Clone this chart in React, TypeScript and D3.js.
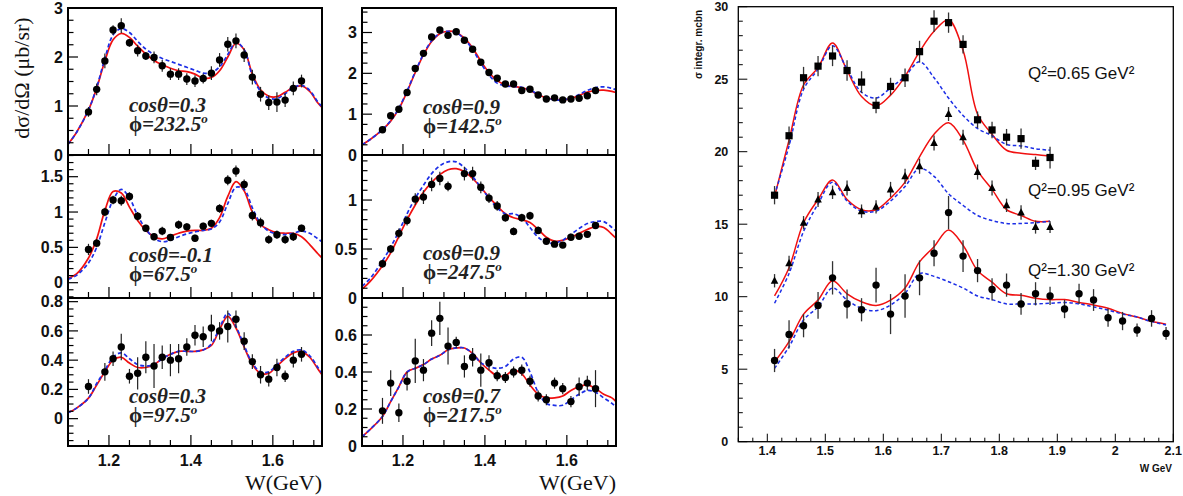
import React from "react";
import * as d3 from "d3";

// ---------------- Left block data (W in GeV) ----------------
const W_POINTS = [1.15, 1.17, 1.19, 1.21, 1.23, 1.25, 1.27, 1.29, 1.31, 1.33, 1.35, 1.37, 1.39, 1.41, 1.43, 1.45, 1.47, 1.49, 1.51, 1.53, 1.55, 1.57, 1.59, 1.61, 1.63, 1.65, 1.67];
const CURVE_W = [1.10, 1.12, 1.15, 1.17, 1.19, 1.21, 1.23, 1.25, 1.27, 1.29, 1.31, 1.33, 1.35, 1.37, 1.39, 1.41, 1.43, 1.45, 1.47, 1.49, 1.51, 1.53, 1.55, 1.57, 1.59, 1.61, 1.63, 1.65, 1.67, 1.69, 1.71, 1.72];

const L1_Y = [0.88, 1.34, 1.92, 2.55, 2.64, 2.29, 2.13, 2.02, 1.99, 1.82, 1.65, 1.65, 1.55, 1.51, 1.56, 1.67, 1.94, 2.26, 2.33, 2.04, 1.59, 1.24, 1.07, 1.08, 1.12, 1.36, 1.51];
const L1_E = [0.1, 0.12, 0.15, 0.1, 0.15, 0.08, 0.12, 0.08, 0.12, 0.12, 0.12, 0.12, 0.12, 0.12, 0.1, 0.14, 0.14, 0.15, 0.15, 0.14, 0.15, 0.15, 0.15, 0.2, 0.14, 0.14, 0.13];
const L1_RED = [0.22, 0.45, 0.92, 1.36, 1.92, 2.35, 2.48, 2.40, 2.22, 2.06, 1.93, 1.84, 1.77, 1.72, 1.70, 1.65, 1.57, 1.58, 1.72, 2.0, 2.28, 2.15, 1.65, 1.33, 1.20, 1.19, 1.28, 1.38, 1.41, 1.30, 1.06, 0.97];
const L1_BLUE = [0.22, 0.45, 0.92, 1.38, 1.97, 2.45, 2.58, 2.50, 2.32, 2.16, 2.05, 1.97, 1.91, 1.85, 1.79, 1.73, 1.67, 1.68, 1.80, 2.05, 2.30, 2.15, 1.62, 1.30, 1.16, 1.15, 1.25, 1.37, 1.42, 1.32, 1.08, 0.99];

const M1_Y = [0.62, 0.96, 1.12, 1.53, 2.12, 2.49, 2.89, 3.06, 2.93, 3.02, 2.81, 2.59, 2.27, 2.02, 1.88, 1.74, 1.74, 1.58, 1.61, 1.47, 1.37, 1.40, 1.35, 1.37, 1.39, 1.45, 1.58];
const M1_E = [0.04, 0.05, 0.05, 0.06, 0.06, 0.07, 0.07, 0.07, 0.07, 0.07, 0.07, 0.06, 0.06, 0.05, 0.05, 0.05, 0.05, 0.05, 0.05, 0.05, 0.04, 0.04, 0.04, 0.04, 0.04, 0.05, 0.05];
const M1_RED = [0.25, 0.38, 0.62, 0.83, 1.13, 1.55, 2.02, 2.45, 2.78, 2.97, 3.03, 3.0, 2.86, 2.62, 2.3, 2.02, 1.82, 1.72, 1.68, 1.65, 1.58, 1.48, 1.40, 1.36, 1.35, 1.38, 1.46, 1.54, 1.58, 1.59, 1.56, 1.53];
const M1_BLUE = [0.25, 0.38, 0.62, 0.84, 1.15, 1.57, 2.04, 2.47, 2.8, 2.98, 3.03, 2.99, 2.84, 2.58, 2.25, 1.96, 1.76, 1.69, 1.68, 1.66, 1.59, 1.49, 1.40, 1.35, 1.35, 1.39, 1.48, 1.58, 1.65, 1.67, 1.63, 1.60];

const L2_Y = [0.47, 0.56, 1.00, 1.17, 1.16, 1.22, 0.94, 0.77, 0.65, 0.73, 0.64, 0.82, 0.79, 0.63, 0.80, 0.84, 1.05, 1.45, 1.58, 1.39, 0.95, 0.85, 0.61, 0.68, 0.61, 0.65, 0.77];
const L2_E = [0.08, 0.06, 0.06, 0.06, 0.07, 0.06, 0.06, 0.05, 0.05, 0.06, 0.05, 0.06, 0.05, 0.05, 0.05, 0.05, 0.06, 0.07, 0.08, 0.07, 0.07, 0.07, 0.06, 0.06, 0.06, 0.06, 0.05];
const L2_RED = [0.06, 0.12, 0.35, 0.62, 1.02, 1.29, 1.27, 1.07, 0.88, 0.74, 0.65, 0.62, 0.66, 0.70, 0.73, 0.74, 0.74, 0.77, 0.92, 1.22, 1.43, 1.30, 1.0, 0.82, 0.75, 0.71, 0.70, 0.70, 0.65, 0.54, 0.41, 0.35];
const L2_BLUE = [0.05, 0.10, 0.28, 0.50, 0.85, 1.17, 1.32, 1.2, 0.95, 0.76, 0.63, 0.58, 0.60, 0.65, 0.69, 0.72, 0.74, 0.76, 0.86, 1.12, 1.35, 1.32, 1.06, 0.84, 0.73, 0.69, 0.68, 0.70, 0.73, 0.70, 0.62, 0.58];

const M2_Y = [0.35, 0.50, 0.66, 0.79, 1.01, 1.03, 1.16, 1.22, 1.14, null, 1.27, 1.27, 1.13, 1.02, 0.94, 0.82, 0.68, 0.82, 0.84, 0.69, 0.58, 0.55, 0.54, 0.62, 0.63, 0.65, 0.74];
const M2_E = [0.04, 0.04, 0.05, 0.05, 0.06, 0.07, 0.07, 0.07, 0.05, null, 0.07, 0.07, 0.06, 0.05, 0.05, 0.04, 0.04, 0.04, 0.04, 0.04, 0.03, 0.03, 0.03, 0.03, 0.03, 0.03, 0.03];
const M2_RED = [0.09, 0.17, 0.33, 0.46, 0.63, 0.80, 0.95, 1.08, 1.18, 1.26, 1.31, 1.32, 1.29, 1.22, 1.13, 1.03, 0.94, 0.86, 0.82, 0.80, 0.77, 0.70, 0.62, 0.58, 0.59, 0.62, 0.66, 0.70, 0.73, 0.72, 0.65, 0.61];
const M2_BLUE = [0.12, 0.2, 0.38, 0.52, 0.68, 0.86, 1.02, 1.15, 1.27, 1.35, 1.39, 1.39, 1.33, 1.24, 1.13, 1.02, 0.92, 0.86, 0.86, 0.82, 0.72, 0.62, 0.57, 0.56, 0.59, 0.65, 0.71, 0.76, 0.78, 0.78, 0.72, 0.68];

const L3_Y = [0.22, null, 0.32, 0.41, 0.49, 0.29, 0.31, 0.42, 0.36, 0.42, 0.40, 0.41, 0.49, 0.57, 0.56, 0.62, 0.60, 0.63, 0.68, 0.53, 0.39, 0.30, 0.27, 0.35, 0.29, 0.40, 0.44];
const L3_E = [0.05, null, 0.06, 0.05, 0.09, 0.05, 0.11, 0.11, 0.15, 0.08, 0.11, 0.10, 0.06, 0.07, 0.07, 0.09, 0.06, 0.11, 0.06, 0.06, 0.05, 0.06, 0.05, 0.06, 0.04, 0.05, 0.05];
const L3_RED = [0.04, 0.07, 0.14, 0.23, 0.32, 0.40, 0.42, 0.38, 0.35, 0.35, 0.37, 0.41, 0.44, 0.46, 0.46, 0.46, 0.47, 0.50, 0.61, 0.70, 0.62, 0.49, 0.37, 0.31, 0.31, 0.36, 0.41, 0.45, 0.46, 0.42, 0.34, 0.30];
const L3_BLUE = [0.04, 0.07, 0.14, 0.24, 0.33, 0.42, 0.45, 0.41, 0.37, 0.36, 0.37, 0.41, 0.44, 0.46, 0.46, 0.46, 0.47, 0.51, 0.62, 0.72, 0.63, 0.50, 0.38, 0.32, 0.32, 0.37, 0.42, 0.46, 0.47, 0.43, 0.35, 0.31];

const M3_Y = [0.19, 0.34, 0.18, 0.35, 0.46, 0.41, 0.61, 0.69, 0.54, 0.56, 0.43, 0.48, 0.41, 0.45, 0.38, 0.37, 0.40, 0.41, 0.35, 0.27, 0.25, 0.34, 0.31, 0.24, 0.32, 0.34, 0.31];
const M3_E = [0.07, 0.07, 0.05, 0.05, 0.12, 0.06, 0.07, 0.09, 0.1, 0.03, 0.06, 0.05, 0.09, 0.04, 0.03, 0.03, 0.03, 0.03, 0.03, 0.03, 0.03, 0.03, 0.03, 0.03, 0.05, 0.04, 0.1];
const M3_RED = [0.05, 0.09, 0.16, 0.24, 0.32, 0.40, 0.42, 0.44, 0.47, 0.49, 0.52, 0.53, 0.53, 0.50, 0.45, 0.41, 0.38, 0.38, 0.41, 0.39, 0.33, 0.28, 0.26, 0.26, 0.27, 0.30, 0.32, 0.33, 0.31, 0.28, 0.26, 0.24];
const M3_BLUE = [0.05, 0.09, 0.16, 0.24, 0.32, 0.40, 0.42, 0.44, 0.47, 0.49, 0.52, 0.53, 0.53, 0.50, 0.45, 0.43, 0.42, 0.43, 0.47, 0.48, 0.40, 0.29, 0.23, 0.22, 0.22, 0.25, 0.28, 0.30, 0.29, 0.26, 0.23, 0.21];

const LEFT_X_LABELS = [1.2, 1.4, 1.6];

// ---------------- Right panel data ----------------
const W_RIGHT = [1.4125, 1.4375, 1.4625, 1.4875, 1.5125, 1.5375, 1.5625, 1.5875, 1.6125, 1.6375, 1.6625, 1.6875, 1.7125, 1.7375, 1.7625, 1.7875, 1.8125, 1.8375, 1.8625, 1.8875, 1.9125, 1.9375, 1.9625, 1.9875, 2.0125, 2.0375, 2.0625, 2.0875];

const SQ_Y = [17.0, 21.1, 25.1, 25.9, 26.6, 25.6, 24.8, 23.2, 24.5, 25.1, 26.9, 29.0, 28.9, 27.4, 22.2, 21.5, 21.0, 20.9, 19.2, 19.6];
const SQ_E = [0.63, 0.63, 0.75, 0.7, 0.7, 0.7, 0.75, 0.55, 0.6, 0.63, 0.75, 0.75, 0.7, 0.63, 0.57, 0.57, 0.57, 0.7, 0.46, 0.75];
const SQ_RED = [16.9, 20.8, 24.6, 25.8, 27.5, 25.6, 23.8, 23.15, 23.9, 25.2, 26.9, 28.3, 29.1, 27.0, 22.6, 21.2, 20.1, 19.9, 19.8, 19.7];
const SQ_BLUE = [17.0, 20.4, 24.3, 25.7, 27.3, 25.7, 24.1, 23.7, 24.4, 25.2, 26.2, 25.1, 23.7, 22.5, 21.6, 21.1, 20.5, 20.4, 20.2, 20.1];

const TR_Y = [11.1, 12.3, 15.1, 16.7, 17.2, 17.5, 15.9, 16.2, 17.4, 18.3, 19.0, 20.6, 22.6, 21.0, 18.6, 17.5, 16.3, 15.8, 14.8, 14.8];
const TR_E = [0.46, 0.52, 0.46, 0.52, 0.46, 0.52, 0.46, 0.46, 0.52, 0.52, 0.52, 0.52, 0.48, 0.52, 0.52, 0.52, 0.46, 0.5, 0.45, 0.4];
const TR_RED = [10.05, 12.0, 15.1, 16.7, 18.05, 16.7, 16.0, 16.0, 16.8, 17.9, 19.65, 21.2, 22.0, 20.8, 18.7, 17.4, 16.0, 15.6, 15.2, 15.2];
const TR_BLUE = [9.55, 11.6, 14.5, 16.4, 17.9, 16.6, 15.9, 15.9, 16.6, 17.6, 18.85, 18.3, 17.1, 16.3, 15.6, 15.25, 15.05, 15.05, 15.1, 15.2];

const CI_Y = [5.6, 7.4, 8.0, 9.4, 11.3, 9.5, 9.1, 10.8, 8.8, 10.05, 11.3, 13.0, 15.8, 12.8, 11.8, 10.5, 10.8, 9.5, 10.2, 10.05, 9.15, 10.2, 9.77, 8.55, 8.32, 7.7, 8.5, 7.47];
const CI_E = [0.8, 0.98, 0.8, 0.92, 1.15, 1.0, 0.8, 1.2, 1.38, 1.5, 1.2, 0.9, 1.15, 1.1, 0.8, 0.77, 0.8, 0.75, 0.8, 0.63, 0.63, 0.7, 0.75, 0.63, 0.63, 0.46, 0.57, 0.44];
const CI_RED = [5.5, 6.9, 8.8, 9.77, 11.1, 10.2, 9.65, 9.4, 9.77, 10.6, 12.4, 13.45, 14.6, 13.55, 11.8, 11.0, 10.2, 10.1, 9.9, 9.8, 9.8, 9.6, 9.43, 9.2, 8.85, 8.6, 8.3, 8.1];
const CI_BLUE = [5.06, 6.55, 8.4, 9.3, 10.6, 9.77, 9.2, 9.03, 9.43, 10.23, 11.6, 11.4, 11.03, 10.6, 10.05, 9.8, 9.5, 9.5, 9.5, 9.55, 9.6, 9.5, 9.3, 9.08, 8.8, 8.6, 8.28, 8.05];

const RIGHT_X_LABELS = ["1.4", "1.5", "1.6", "1.7", "1.8", "1.9", "2", "2.1"];
const RIGHT_Y_LABELS = [0, 5, 10, 15, 20, 25, 30];
const Q2_LABELS = ["Q²=0.65 GeV²", "Q²=0.95 GeV²", "Q²=1.30 GeV²"];

// ---------------- Layout / styles ----------------
const RED = "#f01010";
const BLUE = "#1c2ee6";
const SERIF = "'Liberation Serif', 'Times New Roman', serif";
const SANS = "'Liberation Sans', Arial, Helvetica, sans-serif";

const COLS = [{ x0: 68, x1: 322 }, { x0: 362, x1: 616 }];
const ROWS = [{ y0: 8, y1: 155 }, { y0: 155, y1: 298 }, { y0: 298, y1: 446 }];

type Panel = {
  col: number; row: number; dom: [number, number]; labels: number[]; minor: number; major: number;
  ys: (number | null)[]; es: (number | null)[]; red: number[]; blue: number[]; cos: string; phi: string; ty: number;
};

const PANELS: Panel[] = [
  { col: 0, row: 0, dom: [0, 3.0], labels: [0, 1, 2, 3], major: 1, minor: 0.25, ys: L1_Y, es: L1_E, red: L1_RED, blue: L1_BLUE, cos: "0.3", phi: "232.5", ty: 112 },
  { col: 1, row: 0, dom: [0, 3.6], labels: [0, 1, 2, 3], major: 1, minor: 0.25, ys: M1_Y, es: M1_E, red: M1_RED, blue: M1_BLUE, cos: "0.9", phi: "142.5", ty: 114 },
  { col: 0, row: 1, dom: [-0.2165, 1.807], labels: [0, 0.5, 1, 1.5], major: 0.5, minor: 0.1, ys: L2_Y, es: L2_E, red: L2_RED, blue: L2_BLUE, cos: "-0.1", phi: "67.5", ty: 262 },
  { col: 1, row: 1, dom: [0, 1.46], labels: [0, 0.5, 1], major: 0.5, minor: 0.1, ys: M2_Y, es: M2_E, red: M2_RED, blue: M2_BLUE, cos: "0.9", phi: "247.5", ty: 260 },
  { col: 0, row: 2, dom: [-0.187, 0.825], labels: [0, 0.2, 0.4, 0.6, 0.8], major: 0.2, minor: 0.05, ys: L3_Y, es: L3_E, red: L3_RED, blue: L3_BLUE, cos: "0.3", phi: "97.5", ty: 403 },
  { col: 1, row: 2, dom: [0, 0.8], labels: [0, 0.2, 0.4, 0.6], major: 0.2, minor: 0.05, ys: M3_Y, es: M3_E, red: M3_RED, blue: M3_BLUE, cos: "0.7", phi: "217.5", ty: 403 },
];

function isMult(v: number, step: number) {
  const r = v / step;
  return Math.abs(r - Math.round(r)) < 1e-6;
}

function LeftPanel({ p, idx }: { p: Panel; idx: number }) {
  const { x0, x1 } = COLS[p.col];
  const { y0, y1 } = ROWS[p.row];
  const x = d3.scaleLinear().domain([1.1, 1.72]).range([x0, x1]);
  const y = d3.scaleLinear().domain(p.dom).range([y1, y0]);
  const line = d3.line<[number, number]>().x(d => x(d[0])).y(d => y(d[1])).curve(d3.curveCatmullRom.alpha(0.5));
  const redPts = CURVE_W.map((w, i) => [w, p.red[i]] as [number, number]);
  const bluePts = CURVE_W.map((w, i) => [w, p.blue[i]] as [number, number]);
  const yMinor = d3.range(Math.ceil(p.dom[0] / p.minor - 1e-6), Math.floor(p.dom[1] / p.minor + 1e-6) + 1).map(i => i * p.minor);
  const xMinor = d3.range(Math.ceil(1.1 / 0.05 - 1e-6), Math.floor(1.72 / 0.05 + 1e-6) + 1).map(i => i * 0.05);
  const clip = `clipL${idx}`;
  const tx = x0 + 61;
  return (
    <g>
      <clipPath id={clip}><rect x={x0} y={y0} width={x1 - x0} height={y1 - y0} /></clipPath>
      <g clipPath={`url(#${clip})`}>
        <path d={line(redPts) || ""} fill="none" stroke={RED} strokeWidth={1.7} />
        <path d={line(bluePts) || ""} fill="none" stroke={BLUE} strokeWidth={1.7} strokeDasharray="4 2.6" />
      </g>
      {W_POINTS.map((w, i) => {
        const v = p.ys[i];
        const e = p.es[i];
        if (v == null) return null;
        return (
          <g key={i}>
            <line x1={x(w)} x2={x(w)} y1={y(v - (e || 0))} y2={y(v + (e || 0))} stroke="#222" strokeWidth={1.2} />
            <circle cx={x(w)} cy={y(v)} r={3.7} fill="#000" />
          </g>
        );
      })}
      {yMinor.map((v, i) => {
        const maj = isMult(v, p.major);
        return <line key={"yt" + i} x1={x0} x2={x0 + (maj ? 10 : 5.5)} y1={y(v)} y2={y(v)} stroke="#000" strokeWidth={1.2} />;
      })}
      {xMinor.map((v, i) => {
        const maj = isMult(v, 0.2);
        return <line key={"xt" + i} x1={x(v)} x2={x(v)} y1={y1} y2={y1 - (maj ? 11 : 6)} stroke="#000" strokeWidth={1.2} />;
      })}
      <rect x={x0} y={y0} width={x1 - x0} height={y1 - y0} fill="none" stroke="#000" strokeWidth={2} />
      {p.labels.map((v, i) => (
        <text key={"yl" + i} x={x0 - 5} y={y(v)} dy="0.36em" textAnchor="end" fontFamily={SANS} fontWeight="bold" fontSize={16} fill="#111">
          {String(v)}
        </text>
      ))}
      {p.row === 2 && LEFT_X_LABELS.map((v, i) => (
        <text key={"xl" + i} x={x(v)} y={466} textAnchor="middle" fontFamily={SANS} fontWeight="bold" fontSize={16} fill="#111">
          {v.toFixed(1)}
        </text>
      ))}
      <text x={tx} y={p.ty} fontFamily={SERIF} fontWeight="bold" fontStyle="italic" fontSize={21} fill="#222">
        {`cosθ=${p.cos}`}
      </text>
      <text x={tx} y={p.ty + 19} fontFamily={SERIF} fontWeight="bold" fontSize={21} fill="#222">
        {"ϕ"}<tspan fontStyle="italic">{`=${p.phi}`}</tspan>
        <tspan fontStyle="italic" fontSize={13} dy={-8}>o</tspan>
      </text>
    </g>
  );
}

function RightPanel() {
  const x0 = 738.3, x1 = 1173.3, y0 = 6.7, y1 = 441.7;
  const x = d3.scaleLinear().domain([1.35, 2.1]).range([x0, x1]);
  const y = d3.scaleLinear().domain([0, 30]).range([y1, y0]);
  const line = d3.line<[number, number]>().x(d => x(d[0])).y(d => y(d[1])).curve(d3.curveCatmullRom.alpha(0.5));
  const series = [
    { ys: SQ_Y, es: SQ_E, red: SQ_RED, blue: SQ_BLUE, m: "sq" },
    { ys: TR_Y, es: TR_E, red: TR_RED, blue: TR_BLUE, m: "tr" },
    { ys: CI_Y, es: CI_E, red: CI_RED, blue: CI_BLUE, m: "ci" },
  ];
  const yTicks = d3.range(0, 31, 1);
  const xTicks = d3.range(Math.round(1.35 / 0.025), Math.round(2.1 / 0.025) + 1).map(i => i * 0.025);
  const marker = (m: string, cx: number, cy: number) => {
    if (m === "sq") return <rect x={cx - 3.6} y={cy - 3.6} width={7.2} height={7.2} fill="#000" />;
    if (m === "tr") return <path d={`M${cx},${cy - 4.3} L${cx + 3.8},${cy + 3} L${cx - 3.8},${cy + 3} Z`} fill="#000" />;
    return <circle cx={cx} cy={cy} r={3.7} fill="#000" />;
  };
  const q2y = [79, 196, 276];
  return (
    <g>
      {series.map((s, si) => (
        <g key={si}>
          <path d={line(s.red.map((v, i) => [W_RIGHT[i], v] as [number, number])) || ""} fill="none" stroke={RED} strokeWidth={1.5} />
          <path d={line(s.blue.map((v, i) => [W_RIGHT[i], v] as [number, number])) || ""} fill="none" stroke={BLUE} strokeWidth={1.5} strokeDasharray="3.5 2.5" />
          {s.ys.map((v, i) => (
            <g key={i}>
              <line x1={x(W_RIGHT[i])} x2={x(W_RIGHT[i])} y1={y(v - s.es[i])} y2={y(v + s.es[i])} stroke="#333" strokeWidth={1.3} />
              {marker(s.m, x(W_RIGHT[i]), y(v))}
            </g>
          ))}
        </g>
      ))}
      {yTicks.map((v, i) => {
        const maj = v % 5 === 0;
        return <line key={"y" + i} x1={x0} x2={x0 + (maj ? 9 : 4.5)} y1={y(v)} y2={y(v)} stroke="#000" strokeWidth={1} />;
      })}
      {xTicks.map((v, i) => {
        const maj = isMult(v, 0.1);
        return <line key={"x" + i} x1={x(v)} x2={x(v)} y1={y1} y2={y1 - (maj ? 8 : 4)} stroke="#000" strokeWidth={1} />;
      })}
      <rect x={x0} y={y0} width={x1 - x0} height={y1 - y0} fill="none" stroke="#000" strokeWidth={1.3} />
      {RIGHT_Y_LABELS.map((v, i) => (
        <text key={"yl" + i} x={x0 - 10} y={y(v)} dy="0.36em" textAnchor="end" fontFamily={SANS} fontWeight="bold" fontSize={12.5} fill="#111">{v}</text>
      ))}
      {RIGHT_X_LABELS.map((s, i) => (
        <text key={"xl" + i} x={x(parseFloat(s))} y={455} textAnchor="middle" fontFamily={SANS} fontWeight="bold" fontSize={12.5} fill="#111">{s}</text>
      ))}
      <text x={1172} y={472} textAnchor="end" fontFamily={SANS} fontWeight="bold" fontSize={10} fill="#111">W GeV</text>
      <text transform={`translate(702,10) rotate(-90)`} textAnchor="end" fontFamily={SANS} fontWeight="bold" fontSize={10} fill="#111">σ integr. mcbn</text>
      {Q2_LABELS.map((q, i) => (
        <text key={"q" + i} x={1028} y={q2y[i]} fontFamily={SANS} fontSize={17} fill="#111">{q}</text>
      ))}
    </g>
  );
}

export default function App() {
  return (
    <svg width={1183} height={496} viewBox="0 0 1183 496" style={{ position: "absolute", left: 0, top: 0, background: "#fff" }}>
      <rect x={0} y={0} width={1183} height={496} fill="#fff" />
      {PANELS.map((p, i) => <LeftPanel key={i} p={p} idx={i} />)}
      <text transform="translate(29,78) rotate(-90)" textAnchor="middle" fontFamily={SERIF} fontSize={22} fill="#111">dσ/dΩ (μb/sr)</text>
      <text x={322} y={490} textAnchor="end" fontFamily={SERIF} fontSize={22} fill="#111">W(GeV)</text>
      <text x={616} y={490} textAnchor="end" fontFamily={SERIF} fontSize={22} fill="#111">W(GeV)</text>
      <RightPanel />
    </svg>
  );
}
